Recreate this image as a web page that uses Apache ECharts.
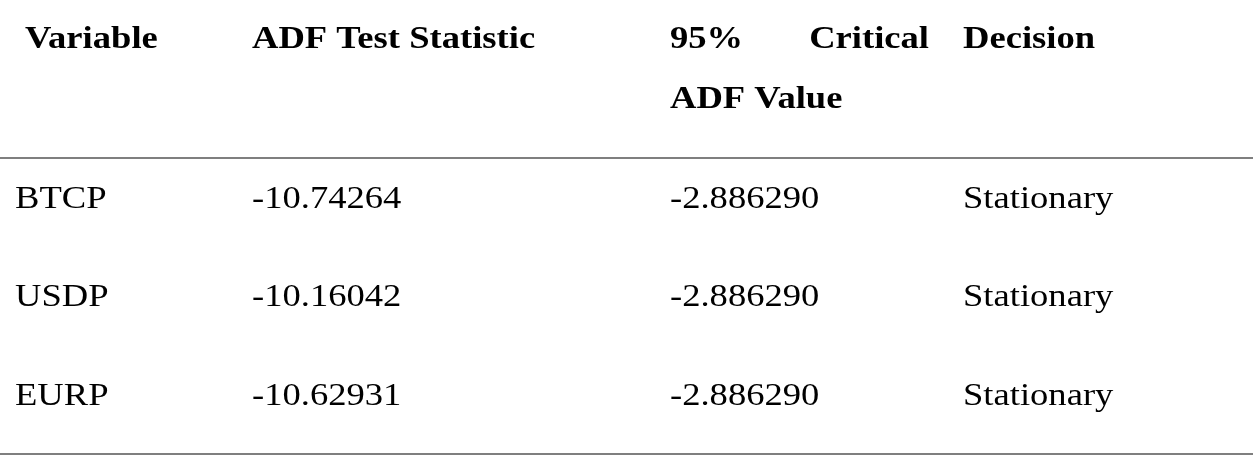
<!DOCTYPE html><html><head><meta charset="utf-8"><script src="https://cdn.jsdelivr.net/npm/echarts@6/dist/echarts.min.js"></script>
<style>html,body{margin:0;background:#fff}#c{width:1253px;height:458px}</style></head><body><div id="c"></div><script>
const variables=["BTCP","USDP","EURP"];
const adfStats=["-10.74264","-10.16042","-10.62931"];
const critical=["-2.886290","-2.886290","-2.886290"];
const decisions=["Stationary","Stationary","Stationary"];
const headers=["Variable","ADF Test Statistic","95%","ADF Value","Decision"];
const colX=[15,252,670,963], rowY=[200,298,397];
const font='"Liberation Serif","Times New Roman",serif';
const els=[];
function t(x,y,s,bold,align){els.push({type:'text',x:x,y:y,scaleX:1.18,style:{text:s,font:(bold?'bold ':'')+'31px '+font,fill:'#000',textAlign:align||'left',textVerticalAlign:'middle'}});}
t(25,40,headers[0],1);t(252,40,headers[1],1);t(670,40,headers[2],1);
t(929,40,'Critical',1,'right');
t(670,100,headers[3],1);t(963,40,headers[4],1);
[variables,adfStats,critical,decisions].forEach((col,ci)=>col.forEach((v,ri)=>t(colX[ci],rowY[ri],v,0)));
els.push({type:'line',shape:{x1:0,y1:158,x2:1253,y2:158},style:{stroke:'#555',lineWidth:1.5}});
els.push({type:'line',shape:{x1:0,y1:454,x2:1253,y2:454},style:{stroke:'#555',lineWidth:1.5}});
echarts.init(document.getElementById('c')).setOption({animation:false,graphic:els});
</script></body></html>
